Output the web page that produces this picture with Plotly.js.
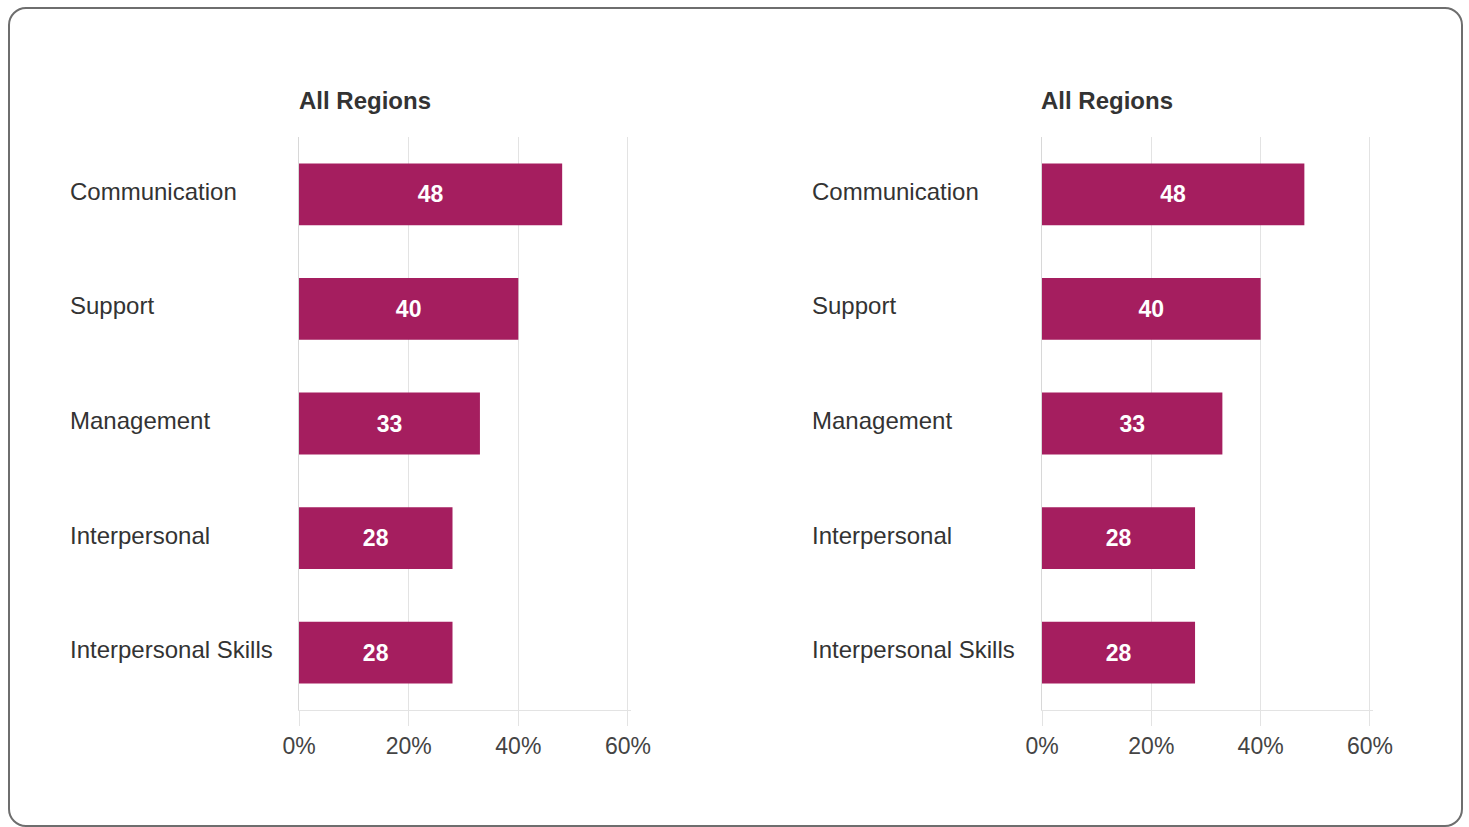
<!DOCTYPE html>
<html>
<head>
<meta charset="utf-8">
<script src="https://cdn.plot.ly/plotly-3.0.1.min.js"></script>
<style>
html,body{margin:0;padding:0;background:#fff;}
#wrap{position:relative;width:1469px;height:827px;overflow:hidden;}
#chart{position:absolute;left:0;top:0;width:1469px;height:827px;}
#frame{position:absolute;left:8px;top:7px;width:1451px;height:816px;border:2px solid #6e6e6e;border-radius:18px;pointer-events:none;}
</style>
</head>
<body>
<div id="wrap"><div id="chart"></div><div id="frame"></div></div>
<script>
const categories = ["Communication", "Support", "Management", "Interpersonal", "Interpersonal Skills"];
const leftValues = [48, 40, 33, 28, 28];
const rightValues = [48, 40, 33, 28, 28];
const panelTitles = ["All Regions", "All Regions"];
const xTickVals = [0, 20, 40, 60];
const xTickText = ["0%", "20%", "40%", "60%"];

const barColor = "#A51E5F";
const fontFam = "'Liberation Sans', Arial, sans-serif";

function barTrace(vals, xa, ya) {
  return {
    type: "bar", orientation: "h",
    x: vals, y: categories,
    xaxis: xa, yaxis: ya,
    marker: {color: barColor},
    text: vals.map(String),
    textposition: "inside",
    insidetextanchor: "middle",
    textfont: {color: "#ffffff", size: 23, family: fontFam, weight: "bold"},
    hoverinfo: "none",
    cliponaxis: false
  };
}

function xAxis(domain, anchor) {
  return {
    domain: domain, anchor: anchor,
    range: [0, 60.5], tickvals: xTickVals, ticktext: xTickText,
    showgrid: true, gridcolor: "#e3e3e3", gridwidth: 1,
    zeroline: false,
    showline: true, linecolor: "#e3e3e3", linewidth: 1,
    ticks: "outside", ticklen: 15, tickcolor: "#e3e3e3", tickwidth: 1,
    tickfont: {size: 23, color: "#444444", family: fontFam},
    fixedrange: true
  };
}
function yAxis(anchor) {
  return {
    domain: [0.1415, 0.8343], anchor: anchor,
    type: "category", autorange: "reversed",
    showticklabels: false, showgrid: false, zeroline: false,
    showline: true, linecolor: "#d8d8d8", linewidth: 1,
    ticks: "", fixedrange: true
  };
}

const annotations = [];
const labelX = [68/1469, 810/1469];
const titleX = [297/1469, 1039/1469];
[["x","y"],["x2","y2"]].forEach((ax, i) => {
  annotations.push({
    xref: "paper", yref: "paper", x: titleX[i], y: 1 - 101/827,
    xanchor: "left", yanchor: "middle", showarrow: false,
    text: "<b>" + panelTitles[i] + "</b>",
    font: {size: 24, color: "#333333", family: fontFam}
  });
  categories.forEach(c => {
    annotations.push({
      xref: "paper", yref: ax[1], x: labelX[i], y: c,
      xanchor: "left", yanchor: "middle", showarrow: false,
      yshift: 3,
      text: c, font: {size: 24, color: "#333333", family: fontFam}
    });
  });
});

const layout = {
  width: 1469, height: 827,
  margin: {l: 0, r: 0, t: 0, b: 0},
  paper_bgcolor: "#ffffff", plot_bgcolor: "#ffffff",
  showlegend: false,
  bargap: 0.46,
  xaxis: xAxis([299/1469, 630.7/1469], "y"),
  yaxis: yAxis("x"),
  xaxis2: xAxis([1042/1469, 1372.7/1469], "y2"),
  yaxis2: yAxis("x2"),
  annotations: annotations,
  font: {family: fontFam}
};

Plotly.newPlot("chart", [barTrace(leftValues, "x", "y"), barTrace(rightValues, "x2", "y2")], layout, {displayModeBar: false, staticPlot: true});
</script>
</body>
</html>
